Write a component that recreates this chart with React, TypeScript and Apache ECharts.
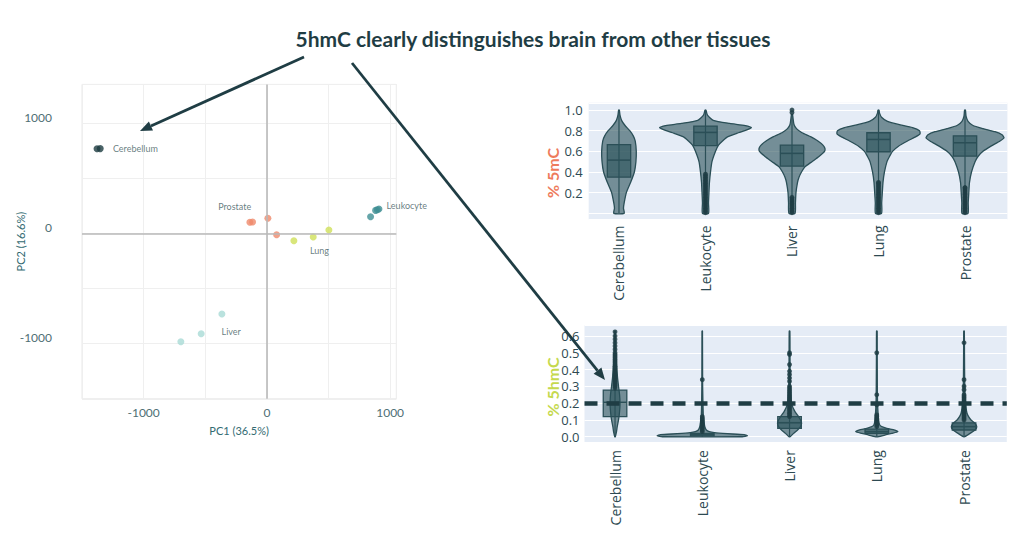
import React, { useEffect, useRef } from "react";
import * as echarts from "echarts";

const tissues = ["Cerebellum", "Leukocyte", "Liver", "Lung", "Prostate"];
const chartTitle = "5hmC clearly distinguishes brain from other tissues";

// ---------- PCA ----------
const pcaNameX = "PC1 (36.5%)";
const pcaNameY = "PC2 (16.6%)";
const pcaCerebellum = [[-1378, 767], [-1352, 768]];
const pcaProstate = [[-138, 100], [-116, 102], [8, 136], [79, -13]];
const pcaLung = [[219, -67], [376, -34], [503, 30]];
const pcaLeukocyte = [[841, 150], [882, 208], [896, 214], [909, 220]];
const pcaLiver = [[-365, -732], [-533, -910], [-698, -983]];
const pcaLabels = [
  ["Cerebellum", -1249, 767],
  ["Prostate", -395, 245],
  ["Leukocyte", 971, 254],
  ["Lung", 349, -158],
  ["Liver", -368, -892],
];

// ---------- % 5mC violins: [value, half-width in category units] ----------
const mcCerebellum = [[0, 0.06], [0.05, 0.052], [0.1, 0.06], [0.2, 0.085], [0.3, 0.135], [0.4, 0.178], [0.5, 0.196], [0.6, 0.2], [0.7, 0.188], [0.75, 0.165], [0.8, 0.125], [0.85, 0.07], [0.9, 0.03], [0.95, 0.012], [1.0, 0.004]];
const mcLeukocyte = [[0, 0.035], [0.1, 0.035], [0.2, 0.04], [0.3, 0.046], [0.4, 0.058], [0.5, 0.075], [0.6, 0.116], [0.66, 0.15], [0.7, 0.197], [0.74, 0.254], [0.78, 0.38], [0.81, 0.486], [0.83, 0.53], [0.85, 0.46], [0.87, 0.28], [0.9, 0.09], [0.95, 0.023], [1.0, 0.005]];
const mcLiver = [[0, 0.035], [0.1, 0.04], [0.2, 0.046], [0.3, 0.064], [0.35, 0.081], [0.4, 0.11], [0.45, 0.15], [0.5, 0.231], [0.55, 0.312], [0.6, 0.376], [0.63, 0.38], [0.66, 0.358], [0.7, 0.3], [0.74, 0.22], [0.78, 0.116], [0.82, 0.052], [0.86, 0.023], [0.92, 0.012], [0.96, 0.005]];
const mcLung = [[0, 0.035], [0.1, 0.037], [0.2, 0.044], [0.3, 0.052], [0.4, 0.069], [0.5, 0.098], [0.55, 0.127], [0.6, 0.162], [0.65, 0.231], [0.7, 0.335], [0.74, 0.428], [0.77, 0.48], [0.8, 0.474], [0.83, 0.393], [0.86, 0.231], [0.89, 0.104], [0.93, 0.035], [0.97, 0.012], [1.0, 0.005]];
const mcProstate = [[0, 0.035], [0.1, 0.037], [0.2, 0.044], [0.3, 0.052], [0.4, 0.075], [0.5, 0.116], [0.55, 0.15], [0.6, 0.208], [0.65, 0.3], [0.7, 0.405], [0.73, 0.451], [0.76, 0.428], [0.79, 0.347], [0.82, 0.208], [0.85, 0.092], [0.89, 0.035], [0.94, 0.012], [1.0, 0.005]];
const mcProfiles = [mcCerebellum, mcLeukocyte, mcLiver, mcLung, mcProstate];
// [Q1, median, Q3]
const mcBoxes = [[0.35, 0.515, 0.665], [0.655, 0.783, 0.845], [0.457, 0.58, 0.66], [0.596, 0.715, 0.78], [0.554, 0.683, 0.75]];
const mcWhiskers = [[0, 1.0], [0, 1.0], [0, 0.96], [0, 1.0], [0, 1.0]];
const mcOutliers = [
  [],
  [0.005, 0.02, 0.035, 0.05, 0.065, 0.08, 0.095, 0.11, 0.125, 0.14, 0.155, 0.17, 0.185, 0.2, 0.215, 0.23, 0.245, 0.26, 0.275, 0.29, 0.305, 0.32, 0.335, 0.35, 0.365, 0.38],
  [0.005, 0.02, 0.035, 0.05, 0.065, 0.08, 0.095, 0.11, 0.125, 0.14, 0.155, 0.975, 1.0],
  [0.005, 0.02, 0.035, 0.05, 0.065, 0.08, 0.095, 0.11, 0.125, 0.14, 0.155, 0.17, 0.185, 0.2, 0.215, 0.23, 0.245, 0.26, 0.275, 0.29, 0.3],
  [0.005, 0.02, 0.035, 0.05, 0.065, 0.08, 0.095, 0.11, 0.125, 0.14, 0.155, 0.17, 0.185, 0.2, 0.215, 0.23, 0.245, 0.25],
];

// ---------- % 5hmC violins ----------
const hmcCerebellum = [[0, 0.003], [0.03, 0.017], [0.06, 0.025], [0.1, 0.04], [0.15, 0.052], [0.2, 0.057], [0.25, 0.052], [0.3, 0.04], [0.35, 0.029], [0.4, 0.021], [0.45, 0.014], [0.5, 0.009], [0.55, 0.006], [0.6, 0.003], [0.63, 0.002]];
const hmcLeukocyte = [[0, 0.458], [0.006, 0.516], [0.012, 0.481], [0.018, 0.287], [0.024, 0.138], [0.03, 0.08], [0.04, 0.046], [0.06, 0.029], [0.1, 0.017], [0.13, 0.011], [0.3, 0.004], [0.63, 0.002]];
const hmcLiver = [[0, 0.006], [0.02, 0.046], [0.04, 0.092], [0.06, 0.126], [0.08, 0.138], [0.1, 0.126], [0.12, 0.103], [0.14, 0.074], [0.16, 0.052], [0.18, 0.034], [0.2, 0.023], [0.25, 0.014], [0.3, 0.009], [0.4, 0.006], [0.5, 0.005], [0.63, 0.003]];
const hmcLung = [[0, 0.023], [0.01, 0.092], [0.02, 0.172], [0.03, 0.241], [0.04, 0.206], [0.05, 0.115], [0.06, 0.057], [0.07, 0.034], [0.09, 0.023], [0.12, 0.017], [0.2, 0.009], [0.3, 0.006], [0.5, 0.004], [0.63, 0.003]];
const hmcProstate = [[0, 0.006], [0.02, 0.069], [0.04, 0.126], [0.06, 0.146], [0.08, 0.126], [0.1, 0.08], [0.12, 0.052], [0.14, 0.034], [0.17, 0.023], [0.2, 0.017], [0.25, 0.011], [0.35, 0.007], [0.5, 0.005], [0.63, 0.003]];
const hmcProfiles = [hmcCerebellum, hmcLeukocyte, hmcLiver, hmcLung, hmcProstate];
const hmcBoxes = [[0.12, 0.205, 0.278], [0.005, 0.012, 0.02], [0.05, 0.083, 0.12], [0.02, 0.03, 0.045], [0.04, 0.06, 0.083]];
const hmcWhiskers = [[0, 0.63], [0, 0.63], [0, 0.63], [0, 0.63], [0, 0.63]];
const hmcOutliers = [
  [0.29, 0.3, 0.31, 0.32, 0.33, 0.34, 0.35, 0.36, 0.37, 0.38, 0.39, 0.4, 0.41, 0.42, 0.43, 0.44, 0.45, 0.46, 0.47, 0.48, 0.49, 0.5, 0.52, 0.54, 0.56, 0.58, 0.6, 0.625],
  [0.03, 0.04, 0.05, 0.06, 0.07, 0.08, 0.09, 0.1, 0.11, 0.12, 0.34],
  [0.12, 0.13, 0.14, 0.15, 0.16, 0.17, 0.18, 0.19, 0.2, 0.21, 0.22, 0.23, 0.24, 0.25, 0.26, 0.27, 0.28, 0.29, 0.3, 0.33, 0.35, 0.37, 0.39, 0.43, 0.49, 0.5],
  [0.06, 0.07, 0.08, 0.09, 0.1, 0.11, 0.12, 0.13, 0.19, 0.25, 0.5],
  [0.1, 0.11, 0.12, 0.13, 0.14, 0.15, 0.16, 0.17, 0.18, 0.19, 0.2, 0.21, 0.22, 0.23, 0.24, 0.25, 0.28, 0.3, 0.34, 0.56],
];
const hmcThreshold = 0.2;

// ---------- styles ----------
const DARK = "#1f3d44";
const VFILL = "rgba(40,80,88,0.6)";
const VSTROKE = "#2b4f57";
const BOX_HALF = 0.135;
const FONT = "Lato";
const VFONT = "Open Sans";

function violinRender(profiles: number[][][], boxes: number[][], whiskers: number[][], outliers: number[][]) {
  return (params: any, api: any) => {
    const i = params.dataIndex;
    const prof = profiles[i];
    const right = prof.map(([y, w]) => api.coord([i + w, y]));
    const left = prof.slice().reverse().map(([y, w]) => api.coord([i - w, y]));
    const children: any[] = [];
    children.push({
      type: "polygon",
      shape: { points: right.concat(left), smooth: 0.2 },
      style: { fill: VFILL, stroke: VSTROKE, lineWidth: 1.3 },
    });
    const [wl, wh] = whiskers[i];
    const p1 = api.coord([i, wl]);
    const p2 = api.coord([i, wh]);
    children.push({
      type: "line",
      shape: { x1: p1[0], y1: p1[1], x2: p2[0], y2: p2[1] },
      style: { stroke: VSTROKE, lineWidth: 1.2 },
    });
    const [q1, med, q3] = boxes[i];
    const a = api.coord([i - BOX_HALF, q3]);
    const b = api.coord([i + BOX_HALF, q1]);
    children.push({
      type: "rect",
      shape: { x: a[0], y: a[1], width: b[0] - a[0], height: b[1] - a[1] },
      style: { fill: VFILL, stroke: VSTROKE, lineWidth: 1.3 },
    });
    const m1 = api.coord([i - BOX_HALF, med]);
    const m2 = api.coord([i + BOX_HALF, med]);
    children.push({
      type: "line",
      shape: { x1: m1[0], y1: m1[1], x2: m2[0], y2: m2[1] },
      style: { stroke: VSTROKE, lineWidth: 1.5 },
    });
    outliers[i].forEach((v) => {
      const c = api.coord([i, v]);
      children.push({
        type: "circle",
        shape: { cx: c[0], cy: c[1], r: 2.4 },
        style: { fill: DARK, opacity: 0.85 },
      });
    });
    return { type: "group", children };
  };
}

function arrow(x1: number, y1: number, x2: number, y2: number) {
  const dx = x2 - x1;
  const dy = y2 - y1;
  const len = Math.sqrt(dx * dx + dy * dy);
  const ux = dx / len;
  const uy = dy / len;
  const hl = 12;
  const hw = 5;
  const bx = x2 - ux * hl;
  const by = y2 - uy * hl;
  return [
    { type: "line", z: 100, shape: { x1, y1, x2: bx, y2: by }, style: { stroke: DARK, lineWidth: 2.8 } },
    {
      type: "polygon",
      z: 100,
      shape: { points: [[x2, y2], [bx - uy * hw, by + ux * hw], [bx + uy * hw, by - ux * hw]] },
      style: { fill: DARK },
    },
  ];
}

const catLabel = (v: number) => {
  const r = Math.round(v);
  return Math.abs(v - r) < 1e-6 && tissues[r] ? tissues[r] : "";
};

export default function App() {
  const ref = useRef<HTMLDivElement>(null);
  useEffect(() => {
    if (!ref.current) return;
    document.body.style.margin = "0";
    const chart = echarts.init(ref.current, null, { renderer: "svg" });
    const pcaAxisLabel = {
      color: "#4e6f75",
      fontSize: 12,
      fontFamily: FONT,
      formatter: (v: number) => (v % 1000 === 0 ? String(v) : ""),
    };
    const violinX = (grid: number, margin: number) => ({
      gridIndex: grid,
      type: "value",
      min: -0.35,
      max: 4.49,
      axisLine: { show: false },
      axisTick: { show: false },
      splitLine: { show: false },
      axisLabel: { rotate: 90, margin, fontSize: 14, color: "#2e4a52", fontFamily: VFONT, formatter: catLabel },
    });
    const option: any = {
      animation: false,
      textStyle: { fontFamily: FONT },
      grid: [
        { left: 82, top: 84.4, width: 314.3, height: 314.4, show: true, borderColor: "#e8e8e8", borderWidth: 1, backgroundColor: "#ffffff" },
        { left: 588.7, top: 102.8, width: 418.7, height: 116.7, show: true, borderWidth: 0, backgroundColor: "#e5ecf6" },
        { left: 584.5, top: 325.1, width: 422.3, height: 117, show: true, borderWidth: 0, backgroundColor: "#e5ecf6" },
      ],
      xAxis: [
        {
          gridIndex: 0,
          type: "value",
          min: -1500,
          max: 1050,
          interval: 500,
          axisLine: { show: false },
          axisTick: { show: false },
          splitLine: { lineStyle: { color: "#efefef" } },
          axisLabel: { ...pcaAxisLabel, margin: 8 },
          name: pcaNameX,
          nameLocation: "middle",
          nameGap: 26,
          nameMoveOverlap: false,
          nameTextStyle: { color: "#336b72", fontSize: 11, fontFamily: FONT },
        },
        violinX(1, 6),
        violinX(2, 8),
      ],
      yAxis: [
        {
          gridIndex: 0,
          type: "value",
          min: -1500,
          max: 1350,
          interval: 500,
          axisLine: { show: false },
          axisTick: { show: false },
          splitLine: { lineStyle: { color: "#efefef" } },
          axisLabel: { ...pcaAxisLabel, margin: 30, verticalAlign: "bottom" },
          name: pcaNameY,
          nameLocation: "middle",
          nameGap: 56,
          nameMoveOverlap: false,
          nameTextStyle: { color: "#336b72", fontSize: 11, fontFamily: FONT },
        },
        {
          gridIndex: 1,
          type: "value",
          min: -0.06,
          max: 1.07,
          axisLine: { show: false },
          axisTick: { show: false },
          splitLine: { lineStyle: { color: "#ffffff", width: 1 } },
          axisLabel: {
            margin: 6,
            fontSize: 13,
            color: "#2e4a52",
            fontFamily: VFONT,
            formatter: (v: number) => (v > 0.1 && v < 1.01 ? v.toFixed(1) : ""),
          },
        },
        {
          gridIndex: 2,
          type: "value",
          min: -0.032,
          max: 0.665,
          axisLine: { show: false },
          axisTick: { show: false },
          splitLine: { lineStyle: { color: "#ffffff", width: 1 } },
          axisLabel: {
            margin: 5,
            fontSize: 13,
            color: "#2e4a52",
            fontFamily: VFONT,
            formatter: (v: number) => (v > -0.001 && v < 0.61 ? v.toFixed(1) : ""),
          },
        },
      ],
      series: [
        {
          type: "scatter",
          xAxisIndex: 0,
          yAxisIndex: 0,
          data: [],
          markLine: {
            silent: true,
            symbol: "none",
            label: { show: false },
            lineStyle: { color: "#b9b9b9", width: 1.6, type: "solid" },
            data: [{ xAxis: 0 }, { yAxis: 0 }],
          },
        },
        { type: "scatter", xAxisIndex: 0, yAxisIndex: 0, symbolSize: 7, itemStyle: { color: "#1d3c41" }, data: pcaCerebellum },
        { type: "scatter", xAxisIndex: 0, yAxisIndex: 0, symbolSize: 7, itemStyle: { color: "#ef8a6b" }, data: pcaProstate },
        { type: "scatter", xAxisIndex: 0, yAxisIndex: 0, symbolSize: 7, itemStyle: { color: "#cfe05a" }, data: pcaLung },
        { type: "scatter", xAxisIndex: 0, yAxisIndex: 0, symbolSize: 7, itemStyle: { color: "#3f8f94" }, data: pcaLeukocyte },
        { type: "scatter", xAxisIndex: 0, yAxisIndex: 0, symbolSize: 7, itemStyle: { color: "#a9dbd6" }, data: pcaLiver },
        {
          type: "scatter",
          xAxisIndex: 0,
          yAxisIndex: 0,
          symbolSize: 0,
          data: pcaLabels.map((l) => [l[1], l[2], l[0]]),
          label: {
            show: true,
            position: "right",
            distance: 0,
            color: "#3f5c62",
            fontSize: 9,
            fontFamily: FONT,
            formatter: (p: any) => p.data[2],
          },
        },
        {
          type: "custom",
          xAxisIndex: 1,
          yAxisIndex: 1,
          data: tissues.map((_, i) => [i, mcBoxes[i][1]]),
          renderItem: violinRender(mcProfiles, mcBoxes, mcWhiskers, mcOutliers),
        },
        {
          type: "custom",
          xAxisIndex: 2,
          yAxisIndex: 2,
          data: tissues.map((_, i) => [i, hmcBoxes[i][1]]),
          renderItem: violinRender(hmcProfiles, hmcBoxes, hmcWhiskers, hmcOutliers),
        },
        {
          type: "line",
          xAxisIndex: 2,
          yAxisIndex: 2,
          data: [],
          markLine: {
            silent: true,
            symbol: "none",
            label: { show: false },
            lineStyle: { color: DARK, width: 4.5, type: [13, 9] },
            data: [{ yAxis: hmcThreshold }],
          },
        },
      ],
      graphic: [
        {
          type: "text",
          x: 533,
          y: 38,
          style: { text: chartTitle, fill: DARK, fontSize: 21, fontWeight: "bold", fontFamily: FONT, align: "center", verticalAlign: "middle" },
        },
        {
          type: "text",
          x: 552,
          y: 173,
          rotation: Math.PI / 2,
          style: { text: "% 5mC", fill: "#ee7b5c", fontSize: 16, fontWeight: "bold", fontFamily: FONT, align: "center", verticalAlign: "middle" },
        },
        {
          type: "text",
          x: 552,
          y: 387,
          rotation: Math.PI / 2,
          style: { text: "% 5hmC", fill: "#c5d94e", fontSize: 16, fontWeight: "bold", fontFamily: FONT, align: "center", verticalAlign: "middle" },
        },
        ...arrow(304, 57, 140, 131),
        ...arrow(352, 63, 605, 380),
      ],
    };
    chart.setOption(option);
    return () => chart.dispose();
  }, []);
  return <div ref={ref} style={{ position: "absolute", left: 0, top: 0, width: 1024, height: 540, background: "#fff" }} />;
}
